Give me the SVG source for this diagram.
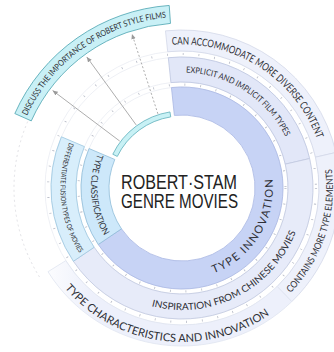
<svg xmlns="http://www.w3.org/2000/svg" width="334" height="352" viewBox="0 0 334 352">
<style>
.lbl{font-family:Lato,"Liberation Sans",sans-serif;fill:#2f3036;}
.track{fill:none;stroke:#e7e9f0;stroke-width:0.7}
.tick{fill:none;stroke:#b7bbc7;stroke-width:2.2;stroke-dasharray:0.8 15}
.conn{stroke:#a4a4a4;stroke-width:0.9;fill:none}
.seg{stroke-width:0.8}
</style>
<defs>
<linearGradient id="fadeL" gradientUnits="userSpaceOnUse" x1="46" y1="0" x2="92" y2="0">
<stop offset="0" stop-color="#edf0fb" stop-opacity="0.15"/>
<stop offset="1" stop-color="#edf0fb" stop-opacity="1"/>
</linearGradient>
<marker id="ah" viewBox="0 0 8 8" refX="7" refY="4" markerWidth="6" markerHeight="6" orient="auto" markerUnits="userSpaceOnUse"><path d="M0,1 L7,4 L0,7 z" fill="#9a9a9a"/></marker>
<path id="pCan" d="M171.99,44.85 A143.5,143.5 0 0 1 316.85,138.92"/>
<path id="pExp" d="M186.03,72.57 A115.5,115.5 0 0 1 285.81,137.37"/>
<path id="pDis" d="M27.02,115.73 A171,171 0 0 1 167.10,17.65"/>
<path id="pInn" d="M213.87,273.24 A91,91 0 0 0 272.58,179.28"/>
<path id="pIns" d="M151.66,306.17 A122,122 0 0 0 295.90,231.72"/>
<path id="pChr" d="M64.90,288.02 A154,154 0 0 0 270.33,314.15"/>
<path id="pCon" d="M290.62,292.89 A151,151 0 0 0 331.71,168.29"/>
<path id="pCls" d="M97.63,153.91 A91,91 0 0 0 104.83,236.22"/>
<path id="pDif" d="M69.34,142.48 A121.5,121.5 0 0 0 80.10,254.17"/>
</defs>
<rect width="334" height="352" fill="#ffffff"/>
<g id="background-tracks">
<circle class="track" cx="182" cy="188" r="101"/>
<circle class="track" cx="182" cy="188" r="106"/>
<circle class="track" cx="182" cy="188" r="131"/>
<circle class="track" cx="182" cy="188" r="137"/>
<path d="M39.53,277.03 A168,168 0 0 1 28.52,119.67" fill="none" stroke="#d9d9de" stroke-width="0.8" stroke-dasharray="2 3"/>
<circle class="tick" cx="182" cy="188" r="103.5"/>
<circle class="tick" cx="182" cy="188" r="134"/>
</g>
<g id="can-accommodate">
<path class="seg" d="M165.48,30.87 A158,158 0 0 1 335.95,152.46 L315.49,157.18 A137,137 0 0 0 167.68,51.75 Z" fill="#eef1fb" stroke="#d3d8e8"/>
<text class="lbl" font-size="10.5"><textPath href="#pCan" textLength="185" lengthAdjust="spacingAndGlyphs">CAN ACCOMMODATE MORE DIVERSE CONTENT</textPath></text>
</g>
<g id="contains-more">
<path class="seg" d="M335.95,152.46 A158,158 0 0 1 291.76,301.66 L277.17,286.55 A137,137 0 0 0 315.49,157.18 Z" fill="#eef1fb" stroke="#d3d8e8"/>
<text class="lbl" font-size="9.5"><textPath href="#pCon" textLength="135" lengthAdjust="spacingAndGlyphs">CONTAINS MORE TYPE ELEMENTS</textPath></text>
</g>
<g id="type-characteristics">
<path class="seg" d="M291.76,301.66 A158,158 0 0 1 48.01,271.73 L65.82,260.60 A137,137 0 0 0 277.17,286.55 Z" fill="url(#fadeL)" stroke="#e0e4f0"/>
<text class="lbl" font-size="11"><textPath href="#pChr" textLength="226" lengthAdjust="spacingAndGlyphs">TYPE CHARACTERISTICS AND INNOVATION</textPath></text>
</g>
<g id="explicit-implicit">
<path class="seg" d="M168.31,57.72 A131,131 0 0 1 309.64,158.53 L285.28,164.16 A106,106 0 0 0 170.92,82.58 Z" fill="#e2e7f8" stroke="#bcc5df"/>
<text class="lbl" font-size="8.5"><textPath href="#pExp" textLength="124" lengthAdjust="spacingAndGlyphs">EXPLICIT AND IMPLICIT FILM TYPES</textPath></text>
</g>
<g id="inspiration">
<path class="seg" d="M309.64,158.53 A131,131 0 0 1 73.40,261.25 L94.12,247.27 A106,106 0 0 0 285.28,164.16 Z" fill="#e7ebf9" stroke="#c2c9df"/>
<text class="lbl" font-size="9.5"><textPath href="#pIns" textLength="177" lengthAdjust="spacingAndGlyphs">INSPIRATION FROM CHINESE MOVIES</textPath></text>
</g>
<g id="differentiate">
<path class="seg" d="M73.40,261.25 A131,131 0 0 1 61.41,136.81 L84.43,146.58 A106,106 0 0 0 94.12,247.27 Z" fill="#d8eefb" stroke="#9cc6df"/>
<text class="lbl" font-size="7"><textPath href="#pDif" textLength="115" lengthAdjust="spacingAndGlyphs">DIFFERENTIATE FUSION TYPES OF MOVIES</textPath></text>
</g>
<g id="type-innovation">
<path class="seg" d="M171.44,87.55 A101,101 0 1 1 98.27,244.48 L121.48,228.82 A73,73 0 1 0 174.37,115.40 Z" fill="#c7d3f5" stroke="#a9b8e3"/>
<text class="lbl" font-size="11"><textPath href="#pInn" textLength="119" lengthAdjust="spacing">TYPE INNOVATION</textPath></text>
</g>
<g id="type-classification">
<path class="seg" d="M98.27,244.48 A101,101 0 0 1 89.03,148.54 L114.80,159.48 A73,73 0 0 0 121.48,228.82 Z" fill="#cde8fa" stroke="#8fbcd8"/>
<text class="lbl" font-size="9"><textPath href="#pCls" textLength="85" lengthAdjust="spacingAndGlyphs">TYPE CLASSIFICATION</textPath></text>
</g>
<g id="style-source">
<path class="seg" d="M112.79,154.25 A77,77 0 0 1 169.95,111.95 L170.74,116.89 A72,72 0 0 0 117.29,156.44 Z" fill="#c8f1f5" stroke="#5fb0bb"/>
</g>
<g id="discuss-importance">
<path class="seg" d="M14.82,113.57 A183,183 0 0 1 169.23,5.45 L170.49,23.40 A165,165 0 0 0 31.27,120.89 Z" fill="#c9f0f6" stroke="#4aa3b0" stroke-width="1"/>
<text class="lbl" font-size="8.5"><textPath href="#pDis" textLength="178" lengthAdjust="spacingAndGlyphs">DISCUSS THE IMPORTANCE OF ROBERT STYLE FILMS</textPath></text>
</g>
<g id="connectors">
<line class="conn" x1="119.71" y1="141.06" x2="52.62" y2="90.51" marker-end="url(#ah)"/>
<line class="conn" x1="136.15" y1="124.90" x2="86.78" y2="56.94" marker-end="url(#ah)"/>
<line class="conn" x1="157.90" y1="113.82" x2="131.94" y2="33.93" stroke-dasharray="2 2" marker-end="url(#ah)"/>
</g>
<g id="center">
<text x="179" y="188.5" font-family="'Liberation Sans',Arial,sans-serif" font-size="20.5" fill="#222" text-anchor="middle" textLength="116" lengthAdjust="spacingAndGlyphs">ROBERT·STAM</text>
<text x="179.5" y="207.5" font-family="'Liberation Sans',Arial,sans-serif" font-size="20.5" fill="#222" text-anchor="middle" textLength="117" lengthAdjust="spacingAndGlyphs">GENRE MOVIES</text>
</g>
</svg>
